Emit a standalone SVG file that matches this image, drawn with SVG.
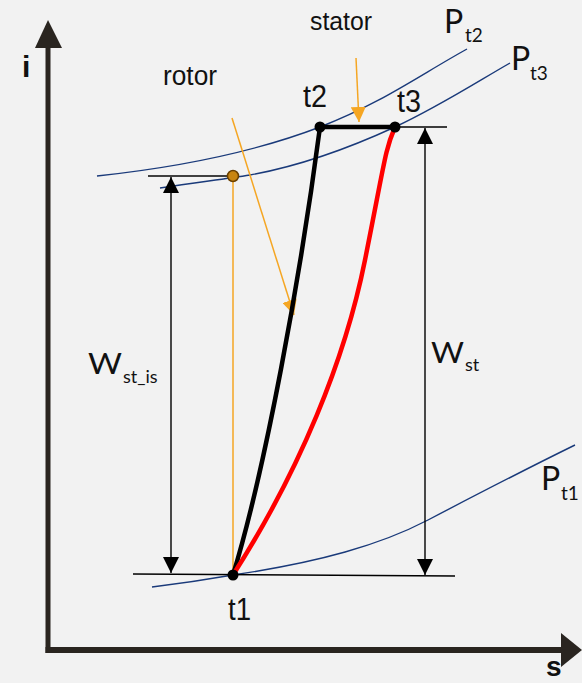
<svg xmlns="http://www.w3.org/2000/svg" width="582" height="683" viewBox="0 0 582 683">
<defs>
<style>
.axis{stroke:#2a2520;stroke-width:5;fill:none}
.isobar{stroke:#1a3a7a;stroke-width:1.4;fill:none}
.thin{stroke:#000;stroke-width:1.4;fill:none}
.orange{stroke:#f5a623;stroke-width:1.5;fill:none}
.lbl{font-family:"Liberation Sans",Arial,sans-serif;fill:#111}
.gs{font-family:Lato,"Liberation Sans",sans-serif;fill:#111}
</style>
<marker id="ah" viewBox="0 0 10 10" refX="10" refY="5" markerWidth="16" markerHeight="16" markerUnits="userSpaceOnUse" orient="auto-start-reverse">
<path d="M0,0 L10,5 L0,10 Z" fill="#000"/>
</marker>
<marker id="oh" viewBox="0 0 10 10" refX="10" refY="5" markerWidth="15" markerHeight="15" markerUnits="userSpaceOnUse" orient="auto">
<path d="M0,0 L10,5 L0,10 Z" fill="#f5a623"/>
</marker>
</defs>
<rect width="582" height="683" fill="#f2f2f2"/>
<g id="axes">
<line class="axis" x1="48" y1="46" x2="48" y2="653"/>
<polygon points="48,20 35,48 62,48" fill="#2a2520"/>
<line x1="45.5" y1="650" x2="564" y2="650" stroke="#2a2520" stroke-width="6"/>
<polygon points="582,650 561,633 561,667" fill="#2a2520"/>
<text class="lbl" x="22" y="77" font-size="30" font-weight="bold">i</text>
<text class="lbl" x="546" y="676" font-size="28" font-weight="bold">s</text>
</g>
<g id="isobars">
<path id="pt2" class="isobar" d="M97,176 C190,166 260,150 320,127 S420,75 467,49"/>
<path id="pt3" class="isobar" d="M160,188 C200,182 225,179 250,175 C300,166 345,150 395,127 C440,106 480,80 510,63"/>
<path id="pt1" class="isobar" d="M152,587 C185,583 210,579 233,575 C320,562 380,545 428,520 C470,498 520,472 575,445"/>
</g>
<g id="connectors">
<line class="thin" x1="133" y1="574" x2="455" y2="576"/>
<line x1="148" y1="176" x2="233" y2="176" stroke="#404040" stroke-width="2"/>
<line class="thin" x1="395" y1="127" x2="447" y2="127"/>
<line class="thin" x1="171" y1="177" x2="171" y2="573" marker-start="url(#ah)" marker-end="url(#ah)"/>
<line class="thin" x1="425" y1="128" x2="425" y2="575" marker-start="url(#ah)" marker-end="url(#ah)"/>
<line class="orange" x1="233" y1="176" x2="233" y2="575"/>
<line class="orange" x1="232" y1="118" x2="294" y2="315" marker-end="url(#oh)"/>
<line class="orange" x1="356" y1="58" x2="359" y2="122" marker-end="url(#oh)"/>
<path id="path-iso" d="M233,575 C265,470 300,280 320,127" stroke="#000" stroke-width="4.5" fill="none"/>
<path id="path-real" d="M233,575 C300,470 345,360 365,260 S385,150 395,127" stroke="#ff0000" stroke-width="4.5" fill="none"/>
<line x1="320" y1="127" x2="395" y2="127" stroke="#000" stroke-width="4.5"/>
</g>
<g id="node-t1">
<circle cx="233" cy="575" r="5.5" fill="#000"/>
<text class="lbl" x="228" y="620" font-size="31" textLength="23" lengthAdjust="spacingAndGlyphs">t1</text>
</g>
<g id="node-t2">
<circle cx="320" cy="127" r="5.5" fill="#000"/>
<text class="lbl" x="303" y="107" font-size="31" textLength="24" lengthAdjust="spacingAndGlyphs">t2</text>
</g>
<g id="node-t3">
<circle cx="395" cy="127" r="5.5" fill="#000"/>
<text class="lbl" x="397" y="112" font-size="31" textLength="24" lengthAdjust="spacingAndGlyphs">t3</text>
</g>
<g id="node-iso">
<circle cx="233" cy="176" r="5.5" fill="#c98510" stroke="#6a4000" stroke-width="1.5"/>
</g>
<g id="labels">
<text class="lbl" x="163" y="85" font-size="27" textLength="54" lengthAdjust="spacingAndGlyphs">rotor</text>
<text class="lbl" x="310" y="30" font-size="26" textLength="62" lengthAdjust="spacingAndGlyphs">stator</text>
<text class="gs" font-size="32"><tspan x="444" y="33">P</tspan><tspan x="465" y="42" font-size="19">t2</tspan></text>
<text class="gs" font-size="32"><tspan x="511" y="70">P</tspan><tspan x="530" y="80" font-size="19">t3</tspan></text>
<text class="gs" font-size="32"><tspan x="541" y="490">P</tspan><tspan x="561" y="500" font-size="19">t1</tspan></text>
<text class="gs" x="88" y="374" font-size="29" textLength="34" lengthAdjust="spacingAndGlyphs">W</text>
<text class="gs" x="123" y="383" font-size="18">st_is</text>
<text class="gs" x="431" y="363" font-size="29" textLength="33" lengthAdjust="spacingAndGlyphs">W</text>
<text class="gs" x="465" y="371" font-size="18">st</text>
</g>
</svg>
